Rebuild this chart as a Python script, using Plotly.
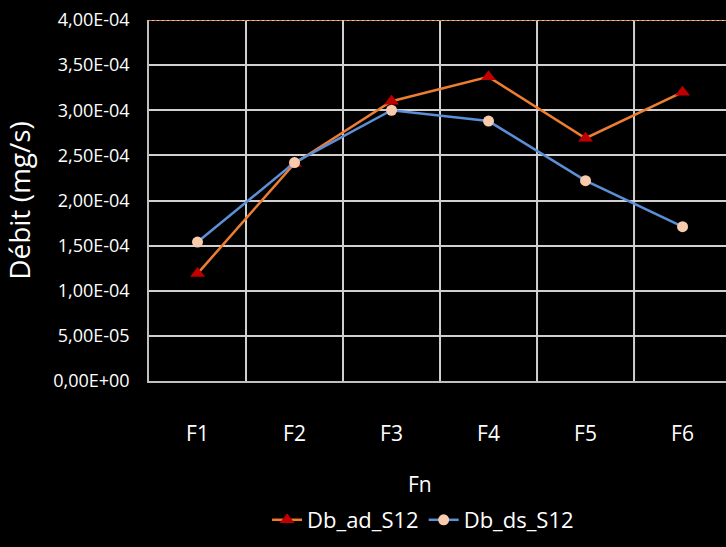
import plotly.graph_objects as go

categories = ["F1", "F2", "F3", "F4", "F5", "F6"]
db_ad_s12 = [1.19e-4, 2.41e-4, 3.10e-4, 3.37e-4, 2.69e-4, 3.20e-4]
db_ds_s12 = [1.54e-4, 2.42e-4, 3.00e-4, 2.88e-4, 2.22e-4, 1.71e-4]
y_tickvals = [0, 5e-5, 1e-4, 1.5e-4, 2e-4, 2.5e-4, 3e-4, 3.5e-4, 4e-4]
y_ticktext = ["0,00E+00", "5,00E-05", "1,00E-04", "1,50E-04", "2,00E-04",
              "2,50E-04", "3,00E-04", "3,50E-04", "4,00E-04"]

font_family = "Liberation Sans Narrow, Open Sans, sans-serif"

fig = go.Figure()
fig.add_trace(go.Scatter(
    x=categories, y=db_ad_s12, name="Db_ad_S12", mode="lines+markers",
    line=dict(color="#ED7D31", width=2.5),
    marker=dict(symbol="triangle-up", color="#C00000", size=13),
))
fig.add_trace(go.Scatter(
    x=categories, y=db_ds_s12, name="Db_ds_S12", mode="lines+markers",
    line=dict(color="#5B8FD8", width=2.5),
    marker=dict(symbol="circle", color="#F8CBAD", size=11),
))

# top boundary: white gridline with orange dotted overlay
fig.add_shape(type="line", xref="paper", x0=0, x1=1, yref="y", y0=4e-4, y1=4e-4,
              line=dict(color="#D0D0D0", width=2), layer="above")
fig.add_shape(type="line", xref="paper", x0=0, x1=1, yref="y", y0=4e-4, y1=4e-4,
              line=dict(color="#ED7D31", width=2, dash="3px,2px"), layer="above")

fig.update_layout(
    width=726, height=547,
    paper_bgcolor="black", plot_bgcolor="black",
    margin=dict(l=149, r=0, t=20, b=166),
    font=dict(family=font_family, color="white", size=18),
    showlegend=True,
    legend=dict(orientation="h", x=0.475, xanchor="center", y=-0.385, yanchor="middle",
                font=dict(size=22, color="white"), bgcolor="rgba(0,0,0,0)",
                tracegroupgap=0),
    xaxis=dict(
        type="category", range=[-0.5, 5.448],
        showgrid=False, showline=True, linecolor="#BFBFBF", linewidth=1.5,
        ticks="", tickfont=dict(size=21, color="white"), ticklabelstandoff=33,
        zeroline=False,
    ),
    yaxis=dict(
        range=[0, 4e-4], tickvals=y_tickvals, ticktext=y_ticktext,
        showgrid=True, gridcolor="#D0D0D0", gridwidth=2,
        showline=True, linecolor="#BFBFBF", linewidth=1.5,
        ticks="", ticklen=0, tickfont=dict(size=18, color="white"), ticklabelstandoff=14,
        zeroline=False,
        title=dict(text="Débit (mg/s)", font=dict(size=28, color="white"), standoff=16),
    ),
    annotations=[dict(text="Fn", xref="paper", yref="paper", x=0.47, y=-0.285,
                      xanchor="center", yanchor="middle", showarrow=False,
                      font=dict(size=21, color="white"))],
)

# vertical gridlines between categories
for i in range(5):
    fig.add_shape(type="line", xref="x", x0=i + 0.5, x1=i + 0.5, yref="paper", y0=0, y1=1,
                  line=dict(color="#D0D0D0", width=2), layer="below")

fig.write_html("out.html", config={"displayModeBar": False},
               post_script="document.body.style.margin='0';document.body.style.background='black';")
